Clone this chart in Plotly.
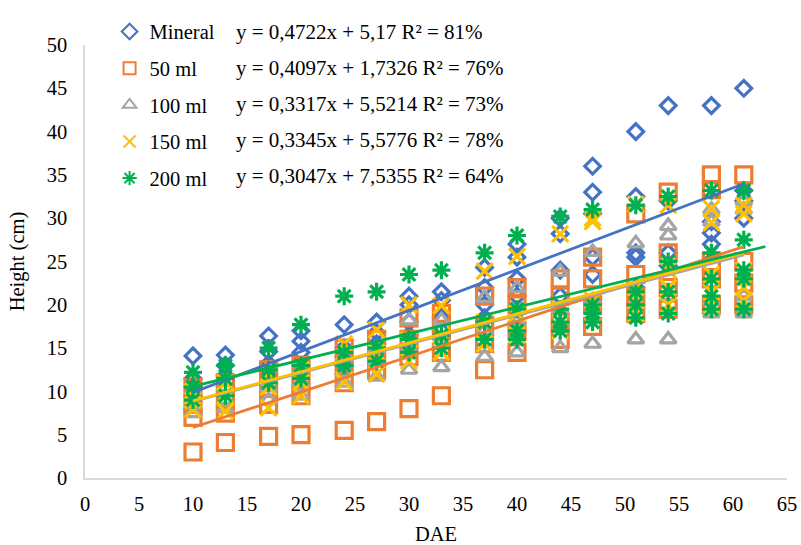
import plotly.graph_objects as go

# Days after emergence at which plant height was measured
dae = [10, 13, 17, 20, 24, 27, 30, 33, 37, 40, 44, 47, 51, 54, 58, 61]

# Plant height (cm) replicates per treatment, one inner list per DAE
mineral = [
    [14.1, 11.5, 10.5, 9.5], [14.2, 13.0, 11.8, 10.5], [16.4, 14.6, 13.2, 12.0],
    [17.0, 15.8, 14.5, 13.0], [17.7, 15.0, 14.0, 13.0], [18.0, 16.8, 15.5, 14.0],
    [21.0, 20.0, 18.0, 16.5], [21.5, 20.5, 18.5, 17.0], [24.3, 22.0, 20.0, 18.5],
    [27.0, 25.5, 23.0, 21.0], [30.0, 28.2, 24.0, 21.0], [36.0, 33.0, 30.5, 25.5, 23.5],
    [40.0, 32.5, 26.0, 25.5, 22.0], [43.0, 32.0, 26.0, 24.5], [43.0, 29.6, 28.3, 27.0],
    [45.0, 33.2, 32.0, 30.0],
]
ml_50 = [
    [3.0, 7.0, 8.5, 10.5], [4.1, 7.5, 9.0, 11.0], [4.8, 8.5, 10.5, 12.5],
    [5.0, 9.5, 11.0, 13.0], [5.5, 11.0, 13.0, 15.0], [6.5, 12.5, 14.0, 16.0],
    [8.0, 14.0, 16.0, 18.5], [9.5, 14.5, 17.0, 19.0], [12.5, 15.5, 17.5, 21.0],
    [14.5, 17.0, 20.0, 22.0], [16.0, 18.0, 21.0, 23.0], [17.5, 20.0, 23.0, 25.5],
    [19.0, 21.0, 23.5, 30.5], [19.5, 22.0, 26.0, 33.0], [20.0, 23.0, 25.0, 33.3, 35.0],
    [20.0, 22.5, 25.0, 35.0],
]
ml_100 = [
    [7.5, 8.5, 9.5], [8.0, 9.0, 10.5], [9.0, 10.5, 11.5],
    [9.5, 11.0, 12.5], [11.0, 12.2, 14.0], [11.7, 13.5, 15.0],
    [12.5, 15.0, 18.2], [12.8, 15.5, 18.2], [14.0, 17.0, 20.8],
    [14.5, 18.0, 21.9], [15.0, 19.5, 23.8], [15.5, 20.5, 26.1],
    [16.0, 20.0, 27.1], [16.0, 21.0, 28.0, 29.1], [19.0, 20.5, 29.6, 31.0],
    [19.0, 21.0, 31.0, 32.0],
]
ml_150 = [
    [7.9, 9.0, 10.0], [7.7, 9.5, 11.0], [8.1, 10.5, 12.0],
    [9.5, 11.0, 12.5], [11.1, 13.0, 15.5], [12.0, 14.5, 17.1],
    [13.5, 16.0, 20.0], [14.5, 16.5, 19.9], [15.5, 18.0, 23.9],
    [16.5, 19.0, 25.6], [17.0, 19.5, 28.2], [19.0, 20.5, 29.6, 30.0],
    [19.0, 20.5, 22.0, 31.6], [20.0, 22.0, 24.0, 31.5], [20.0, 21.5, 23.5, 29.5, 31.1],
    [20.5, 22.0, 24.0, 30.5, 31.5],
]
ml_200 = [
    [12.2, 10.5, 9.0], [13.0, 11.5, 9.5], [15.0, 12.5, 11.0],
    [17.7, 13.0, 11.5], [21.0, 14.5, 13.0], [21.5, 15.0, 13.5],
    [23.5, 16.0, 14.5], [24.0, 16.5, 15.0], [26.0, 18.0, 16.0],
    [28.0, 19.5, 17.0, 16.0], [30.2, 19.5, 18.0, 17.0], [31.0, 20.0, 19.0, 18.0],
    [31.5, 21.5, 20.0, 18.5], [32.5, 25.0, 21.5, 19.0], [33.2, 26.0, 23.0, 21.0, 19.5],
    [33.2, 27.5, 24.0, 23.0, 19.5],
]

names = ["Mineral", "50 ml", "100 ml", "150 ml", "200 ml"]
series = [mineral, ml_50, ml_100, ml_150, ml_200]

# Linear trendline coefficients and R² (%)
slopes = [0.4722, 0.4097, 0.3317, 0.3345, 0.3047]
intercepts = [5.17, 1.7326, 5.5214, 5.5776, 7.5355]
r2_pct = [81, 76, 73, 78, 64]
forecast_fwd = [0, 0, 0, 0, 2]

colors = ["#4472C4", "#ED7D31", "#A5A5A5", "#FFC000", "#00B050"]
symbols = ["diamond-open", "square-open", "triangle-up-open", "x-thin-open", "asterisk-open"]
sizes = [12, 16, 14, 16, 15]

FONT = "Liberation Serif"
FS = 20.5

fig = go.Figure()

for i, (name, reps) in enumerate(zip(names, series)):
    xs, ys = [], []
    for d, vals in zip(dae, reps):
        for v in vals:
            xs.append(d)
            ys.append(v)
    fig.add_trace(go.Scatter(
        x=xs, y=ys, mode="markers", name=name,
        legendgroup=name,
        marker=dict(symbol=symbols[i], size=sizes[i], color=colors[i],
                    line=dict(width=3.2, color=colors[i])),
    ))

# Trendlines on top of the markers
for i, name in enumerate(names):
    x0, x1 = min(dae), max(dae) + forecast_fwd[i]
    fig.add_trace(go.Scatter(
        x=[x0, x1], y=[slopes[i] * x0 + intercepts[i], slopes[i] * x1 + intercepts[i]],
        mode="lines", line=dict(color=colors[i], width=2.8),
        showlegend=False, hoverinfo="skip",
    ))


def dec(v):
    return str(v).replace(".", ",")


for i in range(len(names)):
    fig.add_annotation(
        text=f"y = {dec(slopes[i])}x + {dec(intercepts[i])} R² = {r2_pct[i]}%",
        xref="paper", yref="paper", x=0.212, y=1.031 - i * 0.0835,
        xanchor="left", yanchor="middle", showarrow=False,
        font=dict(family=FONT, size=21, color="#000000"),
    )

axis_common = dict(
    showgrid=False, zeroline=False, showline=True, linecolor="#D9D9D9", linewidth=1.5,
    ticks="", automargin=False, tickfont=dict(family=FONT, size=FS, color="#000000"),
    title_font=dict(family=FONT, size=FS, color="#000000"),
)

fig.update_layout(
    width=801, height=545,
    margin=dict(l=85, r=14, t=26, b=67),
    paper_bgcolor="white", plot_bgcolor="white",
    xaxis=dict(range=[0, 65], dtick=5, tick0=0, title_text="DAE",
               title_standoff=12, ticklabelstandoff=7, **axis_common),
    yaxis=dict(range=[0, 50], dtick=5, tick0=0, title_text="Height (cm)",
               title_standoff=16, ticklabelstandoff=12, **axis_common),
    legend=dict(x=0.035, y=1.077, xanchor="left", yanchor="top",
                bgcolor="rgba(0,0,0,0)", tracegroupgap=7,
                font=dict(family=FONT, size=FS, color="#000000"),
                itemsizing="constant"),
    showlegend=True,
)

fig.write_html("out.html")
